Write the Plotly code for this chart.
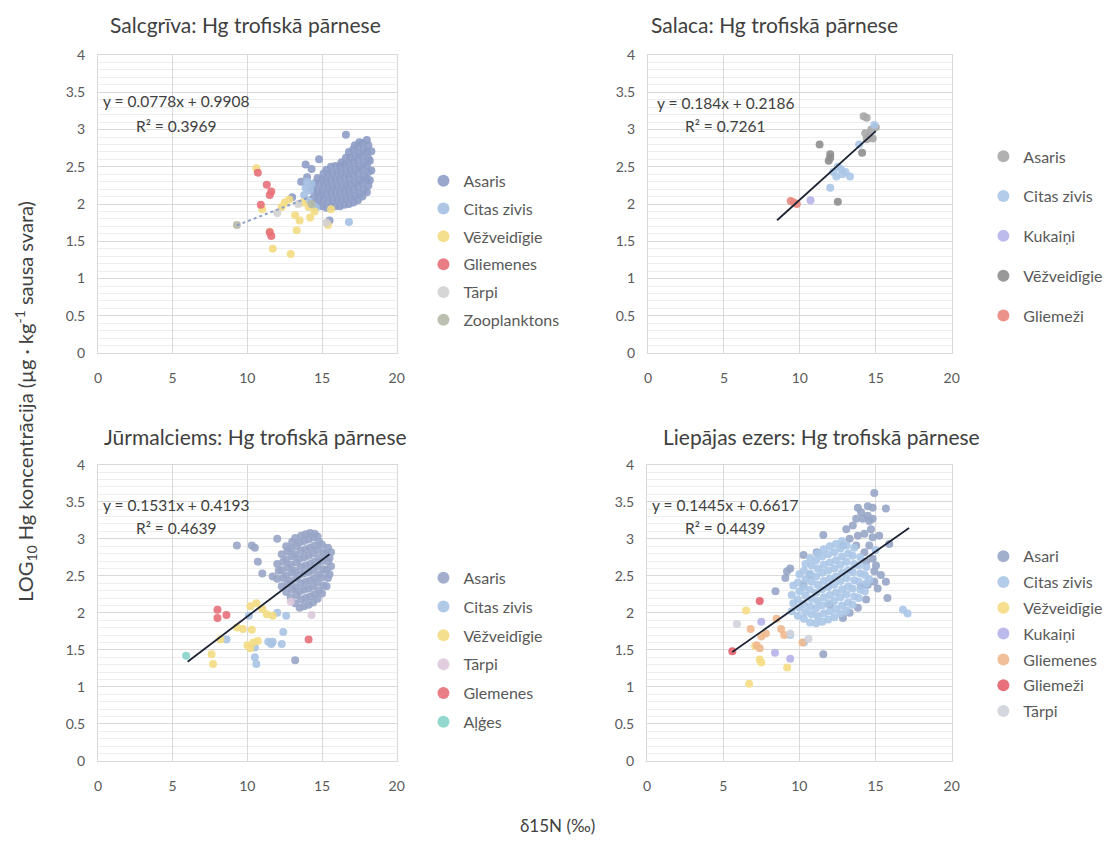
import plotly.graph_objects as go

W, H = 1118, 859
FONT = "Lato"

# ---------------- Salcgrīva ----------------
salc_asaris_x = [13.0, 13.6, 13.9, 14.0, 14.3, 14.8, 16.6, 15.5,
                 14.4, 14.5, 14.4, 14.5,
                 14.7, 14.8, 14.7, 14.8, 14.7,
                 15.0, 15.1, 15.0, 15.1, 15.0, 15.1,
                 15.3, 15.4, 15.3, 15.4, 15.3, 15.4, 15.3,
                 15.6, 15.7, 15.6, 15.7, 15.6, 15.7, 15.6,
                 15.9, 16.0, 15.9, 16.0, 15.9, 16.0, 15.9,
                 16.2, 16.3, 16.2, 16.3, 16.2, 16.3, 16.2, 16.3,
                 16.5, 16.6, 16.5, 16.6, 16.5, 16.6, 16.5, 16.6,
                 16.8, 16.9, 16.8, 16.9, 16.8, 16.9, 16.8, 16.9, 16.8,
                 17.1, 17.2, 17.1, 17.2, 17.1, 17.2, 17.1, 17.2, 17.1, 17.2,
                 17.4, 17.5, 17.4, 17.5, 17.4, 17.5, 17.4, 17.5, 17.4, 17.5,
                 17.7, 17.8, 17.7, 17.8, 17.7, 17.8, 17.7, 17.8, 17.7,
                 18.0, 18.1, 18.0, 18.1, 18.0, 18.1, 18.0, 18.1, 18.0,
                 18.2, 18.3, 18.2, 18.3]
salc_asaris_y = [2.09, 2.30, 2.53, 2.36, 2.47, 2.60, 2.93, 1.78,
                 2.01, 2.10, 2.19, 2.28,
                 1.99, 2.08, 2.17, 2.26, 2.35,
                 1.97, 2.06, 2.15, 2.24, 2.33, 2.41,
                 1.95, 2.04, 2.13, 2.22, 2.31, 2.40, 2.46,
                 1.96, 2.05, 2.14, 2.23, 2.32, 2.41, 2.50,
                 1.97, 2.06, 2.15, 2.24, 2.33, 2.42, 2.51,
                 1.97, 2.06, 2.15, 2.24, 2.33, 2.42, 2.51, 2.56,
                 1.99, 2.08, 2.17, 2.26, 2.35, 2.44, 2.53, 2.62,
                 2.00, 2.09, 2.18, 2.27, 2.36, 2.45, 2.54, 2.63, 2.70,
                 2.02, 2.11, 2.20, 2.29, 2.38, 2.47, 2.56, 2.65, 2.74, 2.79,
                 2.05, 2.14, 2.23, 2.32, 2.41, 2.50, 2.59, 2.68, 2.77, 2.83,
                 2.10, 2.19, 2.28, 2.37, 2.46, 2.55, 2.64, 2.73, 2.82,
                 2.16, 2.25, 2.34, 2.43, 2.52, 2.61, 2.70, 2.79, 2.86,
                 2.32, 2.45, 2.58, 2.71]
salc_citas_x = [13.8, 14.1, 14.2, 13.9, 14.4, 16.8, 14.6, 14.0, 14.3]
salc_citas_y = [2.12, 2.05, 2.18, 2.22, 1.98, 1.76, 1.95, 2.30, 2.27]
salc_vez_x = [10.6, 11.5, 11.7, 12.9, 13.3, 13.2, 14.1, 14.5, 13.7, 12.8, 15.4, 15.6, 12.3, 11.0, 13.5, 14.2, 12.5]
salc_vez_y = [2.48, 1.63, 1.40, 1.33, 1.65, 1.85, 1.96, 1.90, 2.02, 2.06, 1.72, 1.93, 1.96, 1.93, 1.78, 1.82, 2.02]
salc_gliemenes_x = [10.7, 11.3, 11.5, 11.6, 10.9, 11.5, 11.6]
salc_gliemenes_y = [2.42, 2.26, 2.12, 2.17, 1.99, 1.62, 1.57]
salc_tarpi_x = [13.4, 15.3, 12.0]
salc_tarpi_y = [2.00, 1.75, 1.88]
salc_zoo_x = [9.3, 14.3]
salc_zoo_y = [1.72, 2.00]

# ---------------- Salaca ----------------
sal_asaris_x = [14.2, 14.4, 14.7, 15.0, 14.4, 14.6, 14.8, 14.3]
sal_asaris_y = [3.18, 3.16, 3.00, 3.03, 2.87, 2.91, 2.88, 2.95]
sal_citas_x = [12.2, 12.7, 13.0, 13.3, 12.0, 12.4, 12.8, 14.9, 13.9, 12.5]
sal_citas_y = [2.43, 2.47, 2.43, 2.37, 2.22, 2.37, 2.40, 3.06, 2.80, 2.50]
sal_kukaini_x = [10.7]
sal_kukaini_y = [2.05]
sal_vez_x = [11.3, 12.0, 11.9, 12.5, 14.1, 12.0]
sal_vez_y = [2.80, 2.67, 2.58, 2.03, 2.69, 2.62]
sal_gliemezi_x = [9.4, 9.8, 9.6]
sal_gliemezi_y = [2.04, 2.00, 2.02]

# ---------------- Jūrmalciems ----------------
jur_asaris_x = [9.3, 10.3, 10.5, 10.7, 11.0, 12.0, 13.2, 11.7,
                12.0, 12.1, 12.0,
                12.3, 12.4, 12.3, 12.4, 12.3,
                12.6, 12.7, 12.6, 12.7, 12.6, 12.7, 12.6,
                12.9, 13.0, 12.9, 13.0, 12.9, 13.0, 12.9, 13.0,
                13.2, 13.3, 13.2, 13.3, 13.2, 13.3, 13.2, 13.3, 13.2,
                13.5, 13.6, 13.5, 13.6, 13.5, 13.6, 13.5, 13.6, 13.5, 13.6,
                13.8, 13.9, 13.8, 13.9, 13.8, 13.9, 13.8, 13.9, 13.8, 13.9,
                14.1, 14.2, 14.1, 14.2, 14.1, 14.2, 14.1, 14.2, 14.1, 14.2,
                14.4, 14.5, 14.4, 14.5, 14.4, 14.5, 14.4, 14.5, 14.4, 14.5,
                14.7, 14.8, 14.7, 14.8, 14.7, 14.8, 14.7, 14.8, 14.7,
                15.0, 15.1, 15.0, 15.1, 15.0, 15.1, 15.0,
                15.3, 15.4, 15.3, 15.4, 15.3, 15.4,
                15.5, 15.6, 15.5, 15.6]
jur_asaris_y = [2.91, 2.91, 2.88, 2.69, 2.53, 3.00, 1.36, 2.49,
                2.46, 2.57, 2.66,
                2.36, 2.47, 2.58, 2.69, 2.79,
                2.28, 2.39, 2.50, 2.61, 2.72, 2.83, 2.90,
                2.21, 2.32, 2.43, 2.54, 2.65, 2.76, 2.87, 2.96,
                2.13, 2.24, 2.35, 2.46, 2.57, 2.68, 2.79, 2.90, 3.01,
                2.07, 2.18, 2.29, 2.40, 2.51, 2.62, 2.73, 2.84, 2.95, 3.04,
                2.09, 2.20, 2.31, 2.42, 2.53, 2.64, 2.75, 2.86, 2.97, 3.06,
                2.11, 2.22, 2.33, 2.44, 2.55, 2.66, 2.77, 2.88, 2.99, 3.08,
                2.14, 2.25, 2.36, 2.47, 2.58, 2.69, 2.80, 2.91, 3.02, 3.07,
                2.19, 2.30, 2.41, 2.52, 2.63, 2.74, 2.85, 2.96, 3.03,
                2.26, 2.37, 2.48, 2.59, 2.70, 2.81, 2.92,
                2.36, 2.47, 2.58, 2.69, 2.80, 2.88,
                2.52, 2.63, 2.74, 2.82]
jur_citas_x = [12.6, 12.4, 12.3, 11.4, 11.7, 10.5, 10.6, 10.5, 10.1, 8.6, 12.0, 11.6]
jur_citas_y = [1.96, 1.74, 1.58, 1.61, 1.61, 1.40, 1.31, 1.53, 1.96, 1.64, 2.00, 1.58]
jur_vez_x = [7.6, 7.7, 9.3, 10.0, 10.3, 10.4, 10.2, 10.6, 11.3, 11.7, 8.2, 10.2, 10.7, 9.7, 11.0]
jur_vez_y = [1.44, 1.31, 1.80, 1.56, 1.77, 1.60, 2.09, 2.13, 1.98, 1.96, 1.64, 1.52, 1.62, 1.78, 2.05]
jur_tarpi_x = [14.3, 12.9]
jur_tarpi_y = [1.97, 2.15]
jur_glemenes_x = [8.0, 8.0, 8.6, 14.1]
jur_glemenes_y = [2.04, 1.93, 1.97, 1.64]
jur_alges_x = [5.9]
jur_alges_y = [1.42]

# ---------------- Liepājas ezers ----------------
lie_asari_x = [13.84, 14.49, 14.92, 15.68, 13.73, 14.16, 14.59, 14.70, 14.27, 13.84,
               13.30, 12.86, 13.73, 14.59, 14.81, 14.38, 15.03, 15.35, 14.92, 14.49,
               14.05, 15.68, 15.14, 15.78, 14.38, 13.84, 13.30, 12.86, 12.00, 11.57,
               11.14, 10.27, 9.40, 9.19, 9.08, 10.27, 10.70, 8.43, 11.57, 15.24,
               15.90, 14.81, 13.08, 13.51, 14.05, 14.49, 14.81, 14.81, 14.27, 14.92]
lie_asari_y = [3.42, 3.44, 3.62, 3.41, 3.27, 3.27, 3.24, 3.13, 3.07, 3.04,
               3.00, 2.91, 2.91, 2.91, 2.73, 2.69, 2.64, 2.51, 2.42, 2.38,
               2.36, 2.42, 2.33, 2.20, 2.18, 2.07, 2.00, 1.93, 2.11, 3.05,
               2.82, 2.78, 2.60, 2.56, 2.47, 2.38, 2.51, 2.29, 1.44, 3.04,
               2.93, 3.42, 3.13, 3.18, 3.36, 3.31, 3.27, 3.02, 2.82, 2.56]
lie_citas_x = [9.5, 9.6, 9.5, 9.6,
               9.9, 10.0, 9.9, 10.0, 9.9, 10.0,
               10.3, 10.4, 10.3, 10.4, 10.3, 10.4, 10.3, 10.4,
               10.7, 10.8, 10.7, 10.8, 10.7, 10.8, 10.7, 10.8, 10.7,
               11.1, 11.2, 11.1, 11.2, 11.1, 11.2, 11.1, 11.2, 11.1, 11.2,
               11.5, 11.6, 11.5, 11.6, 11.5, 11.6, 11.5, 11.6, 11.5, 11.6,
               11.9, 12.0, 11.9, 12.0, 11.9, 12.0, 11.9, 12.0, 11.9, 12.0,
               12.3, 12.4, 12.3, 12.4, 12.3, 12.4, 12.3, 12.4, 12.3, 12.4,
               12.7, 12.8, 12.7, 12.8, 12.7, 12.8, 12.7, 12.8, 12.7, 12.8,
               13.1, 13.2, 13.1, 13.2, 13.1, 13.2, 13.1, 13.2, 13.1,
               13.5, 13.6, 13.5, 13.6, 13.5, 13.6, 13.5, 13.6,
               13.9, 14.0, 13.9, 14.0, 13.9, 14.0,
               14.3, 14.4, 14.3, 14.4,
               16.8, 17.1, 10.3, 9.4, 15.0, 14.6]
lie_citas_y = [2.02, 2.13, 2.24, 2.37,
               1.96, 2.07, 2.18, 2.29, 2.41, 2.52,
               1.92, 2.01, 2.12, 2.23, 2.34, 2.45, 2.57, 2.66,
               1.87, 1.98, 2.09, 2.19, 2.31, 2.42, 2.53, 2.64, 2.74,
               1.86, 1.95, 2.06, 2.16, 2.27, 2.38, 2.49, 2.60, 2.71, 2.80,
               1.88, 1.99, 2.10, 2.21, 2.32, 2.43, 2.54, 2.65, 2.76, 2.86,
               1.91, 2.02, 2.13, 2.24, 2.35, 2.46, 2.57, 2.68, 2.79, 2.90,
               1.94, 2.05, 2.16, 2.27, 2.38, 2.49, 2.60, 2.71, 2.82, 2.93,
               1.99, 2.10, 2.21, 2.32, 2.43, 2.54, 2.65, 2.76, 2.87, 2.97,
               2.03, 2.14, 2.25, 2.36, 2.47, 2.58, 2.69, 2.80, 2.91,
               2.11, 2.22, 2.33, 2.44, 2.55, 2.66, 2.77, 2.88,
               2.20, 2.31, 2.42, 2.53, 2.64, 2.75,
               2.29, 2.40, 2.51, 2.62,
               2.04, 1.99, 1.60, 1.70, 2.85, 2.45]
lie_vez_x = [6.7, 6.5, 7.4, 7.5, 9.2, 7.1]
lie_vez_y = [1.04, 2.03, 1.37, 1.33, 1.26, 1.55]
lie_kukaini_x = [8.4, 9.4, 7.5]
lie_kukaini_y = [1.46, 1.38, 1.88]
lie_gliemenes_x = [6.8, 7.2, 7.5, 8.5, 8.8, 10.2, 7.8, 7.4, 9.0]
lie_gliemenes_y = [1.78, 1.56, 1.68, 1.92, 1.78, 1.60, 1.72, 1.52, 1.70]
lie_gliemezi_x = [7.4, 5.6]
lie_gliemezi_y = [2.16, 1.48]
lie_tarpi_x = [5.9, 9.4, 10.6]
lie_tarpi_y = [1.85, 1.72, 1.65]

# regression lines: (slope, intercept, x start, x end, R²)
salc_fit = (0.0778, 0.9908, 9.3, 18.2, 0.3969)
sal_fit = (0.184, 0.2186, 8.5, 15.0, 0.7261)
jur_fit = (0.1531, 0.4193, 6.0, 15.5, 0.4639)
lie_fit = (0.1445, 0.6617, 5.6, 17.2, 0.4439)

panels = [
    dict(title="Salcgrīva: Hg trofiskā pārnese", fit=salc_fit, dash="dot", line_color="#8ea0c6",
         px=(95, 397), py=(351, 47), title_xy=(244, 16), legend_xy=(424, 158), gap=4,
         eq_xy=(5.2, 3.38, 3.05),
         series=[("Asaris", salc_asaris_x, salc_asaris_y, "#8e9dc6"),
                 ("Citas zivis", salc_citas_x, salc_citas_y, "#a5c0e3"),
                 ("Vēžveidīgie", salc_vez_x, salc_vez_y, "#f3dc82"),
                 ("Gliemenes", salc_gliemenes_x, salc_gliemenes_y, "#e8707a"),
                 ("Tārpi", salc_tarpi_x, salc_tarpi_y, "#d2d2d2"),
                 ("Zooplanktons", salc_zoo_x, salc_zoo_y, "#b4b9a8")]),
    dict(title="Salaca: Hg trofiskā pārnese", fit=sal_fit, dash="solid", line_color="#1c2333",
         px=(651, 958), py=(351, 47), title_xy=(779, 16), legend_xy=(990, 133), gap=16,
         eq_xy=(5.1, 3.36, 3.05),
         series=[("Asaris", sal_asaris_x, sal_asaris_y, "#a8a8a8"),
                 ("Citas zivis", sal_citas_x, sal_citas_y, "#aac6e8"),
                 ("Kukaiņi", sal_kukaini_x, sal_kukaini_y, "#b6b4ea"),
                 ("Vēžveidīgie", sal_vez_x, sal_vez_y, "#8e8e8e"),
                 ("Gliemeži", sal_gliemezi_x, sal_gliemezi_y, "#e9877e")]),
    dict(title="Jūrmalciems: Hg trofiskā pārnese", fit=jur_fit, dash="solid", line_color="#1c2333",
         px=(95, 397), py=(767, 465), title_xy=(254, 436), legend_xy=(424, 563), gap=5,
         eq_xy=(5.2, 3.46, 3.15),
         series=[("Asaris", jur_asaris_x, jur_asaris_y, "#98a5c6"),
                 ("Citas zivis", jur_citas_x, jur_citas_y, "#a7c3e4"),
                 ("Vēžveidīgie", jur_vez_x, jur_vez_y, "#f3dc82"),
                 ("Tārpi", jur_tarpi_x, jur_tarpi_y, "#ddc9dc"),
                 ("Glemenes", jur_glemenes_x, jur_glemenes_y, "#e8707a"),
                 ("Aļģes", jur_alges_x, jur_alges_y, "#86d4c9")]),
    dict(title="Liepājas ezers: Hg trofiskā pārnese", fit=lie_fit, dash="solid", line_color="#1c2333",
         px=(650, 958), py=(767, 465), title_xy=(826, 436), legend_xy=(990, 541), gap=2,
         eq_xy=(5.1, 3.46, 3.14),
         series=[("Asari", lie_asari_x, lie_asari_y, "#97a6c6"),
                 ("Citas zivis", lie_citas_x, lie_citas_y, "#abc7e7"),
                 ("Vēžveidīgie", lie_vez_x, lie_vez_y, "#f5dd84"),
                 ("Kukaiņi", lie_kukaini_x, lie_kukaini_y, "#b5b3e8"),
                 ("Gliemenes", lie_gliemenes_x, lie_gliemenes_y, "#f0b98f"),
                 ("Gliemeži", lie_gliemezi_x, lie_gliemezi_y, "#e4606e"),
                 ("Tārpi", lie_tarpi_x, lie_tarpi_y, "#cfd3da")]),
]

fig = go.Figure()
layout = dict(
    width=W, height=H, margin=dict(l=0, r=0, t=0, b=0),
    paper_bgcolor="white", plot_bgcolor="white",
    font=dict(family=FONT, color="#595959", size=13),
    showlegend=True, annotations=[],
)


def fx(p):
    return p / W


def fy(p):
    return 1 - p / H


for i, p in enumerate(panels, start=1):
    sfx = "" if i == 1 else str(i)
    xa, ya = "x" + sfx, "y" + sfx
    leg = "legend" + sfx
    for name, xs, ys, col in p["series"]:
        fig.add_trace(go.Scatter(
            x=xs, y=ys, mode="markers", name=name, xaxis=xa, yaxis=ya,
            legend=leg, legendgroup=f"{i}-{name}",
            marker=dict(size=8, color=col, opacity=0.9, line=dict(width=0)),
            hoverinfo="skip"))
    m, b, x0, x1, r2 = p["fit"]
    fig.add_trace(go.Scatter(
        x=[x0, x1], y=[m * x0 + b, m * x1 + b], mode="lines", xaxis=xa, yaxis=ya,
        line=dict(color=p["line_color"], width=2 if p["dash"] == "dot" else 1.8, dash=p["dash"]),
        showlegend=False, hoverinfo="skip"))

    layout["xaxis" + sfx] = dict(
        domain=[fx(p["px"][0]), fx(p["px"][1])], anchor=ya, range=[0, 20],
        tickmode="array", tickvals=[0, 5, 10, 15, 20], ticks="",
        showgrid=True, gridcolor="#d9d9d9", gridwidth=1,
        showline=True, linecolor="#d9d9d9", mirror=True, zeroline=False,
        tickfont=dict(size=14, color="#595959"), ticklabelstandoff=12, fixedrange=True)
    layout["yaxis" + sfx] = dict(
        domain=[fy(p["py"][0]), fy(p["py"][1])], anchor=xa, range=[0, 4],
        tickmode="array", tickvals=[0, 0.5, 1, 1.5, 2, 2.5, 3, 3.5, 4],
        ticktext=["0", "0.5", "1", "1.5", "2", "2.5", "3", "3.5", "4"], ticks="",
        showgrid=True, gridcolor="#d9d9d9", gridwidth=1,
        minor=dict(dtick=0.1, showgrid=True, gridcolor="#eeeeee", gridwidth=1),
        showline=True, linecolor="#d9d9d9", mirror=True, zeroline=False,
        tickfont=dict(size=14, color="#595959"), ticklabelstandoff=9, fixedrange=True)
    layout[leg] = dict(
        x=fx(p["legend_xy"][0]), y=fy(p["legend_xy"][1]), xanchor="left", yanchor="top",
        bgcolor="rgba(0,0,0,0)", font=dict(size=16, color="#595959", family=FONT),
        tracegroupgap=p["gap"], itemsizing="constant")
    layout["annotations"].append(dict(
        text=p["title"], x=fx(p["title_xy"][0]), y=fy(p["title_xy"][1]),
        xref="paper", yref="paper", showarrow=False, xanchor="center", yanchor="middle",
        font=dict(size=21, color="#404040", family=FONT)))
    ex, ey, ry = p["eq_xy"]
    layout["annotations"].append(dict(
        text=f"y = {m}x + {b}", x=ex, y=ey, xref=xa, yref=ya,
        showarrow=False, xanchor="center", yanchor="middle",
        font=dict(size=15.5, color="#404040", family=FONT)))
    layout["annotations"].append(dict(
        text=f"R² = {r2}", x=ex, y=ry, xref=xa, yref=ya,
        showarrow=False, xanchor="center", yanchor="middle",
        font=dict(size=15.5, color="#404040", family=FONT)))

layout["annotations"].append(dict(
    text="LOG<sub>10</sub> Hg koncentrācija (µg · kg<sup>-1</sup> sausa svara)",
    x=fx(22), y=fy(400), xref="paper", yref="paper", showarrow=False, textangle=-90,
    xanchor="center", yanchor="middle", font=dict(size=20, color="#404040", family=FONT)))
layout["annotations"].append(dict(
    text="δ15N (‰)", x=fx(559), y=fy(833), xref="paper", yref="paper", showarrow=False,
    xanchor="center", yanchor="middle", font=dict(size=17, color="#404040", family=FONT)))

fig.update_layout(**layout)
fig.write_html("out.html")
